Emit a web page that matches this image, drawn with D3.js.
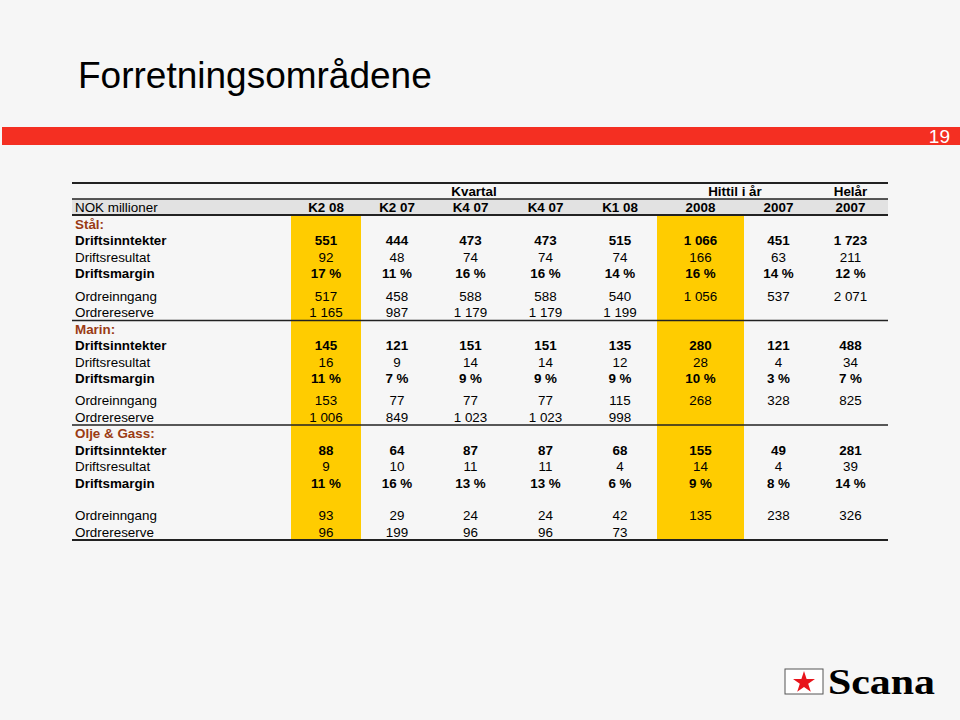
<!DOCTYPE html>
<html lang="no">
<head>
<meta charset="utf-8">
<title>Forretningsområdene</title>
<style>
  body { margin: 0; background: #f6f6f6; }
  svg { display: block; font-family: "Liberation Sans", Arial, sans-serif; }
</style>
</head>
<body>
<script src="https://cdn.jsdelivr.net/npm/d3@7"></script>
<script>
// kolonner
var columns = ["K2 08", "K2 07", "K4 07", "K4 07", "K1 08", "2008", "2007", "2007"];
var groupLabels = ["Kvartal", "Hittil i år", "Helår"];
var groupSpans = [[0, 4], [5, 6], [7, 7]];
var highlightCols = [0, 5];

// Stål
var stalInntekter = [551, 444, 473, 473, 515, 1066, 451, 1723];
var stalResultat = [92, 48, 74, 74, 74, 166, 63, 211];
var stalMargin = [17, 11, 16, 16, 14, 16, 14, 12];
var stalOrdreinngang = [517, 458, 588, 588, 540, 1056, 537, 2071];
var stalOrdrereserve = [1165, 987, 1179, 1179, 1199, null, null, null];

// Marin
var marinInntekter = [145, 121, 151, 151, 135, 280, 121, 488];
var marinResultat = [16, 9, 14, 14, 12, 28, 4, 34];
var marinMargin = [11, 7, 9, 9, 9, 10, 3, 7];
var marinOrdreinngang = [153, 77, 77, 77, 115, 268, 328, 825];
var marinOrdrereserve = [1006, 849, 1023, 1023, 998, null, null, null];

// Olje & Gass
var oljeInntekter = [88, 64, 87, 87, 68, 155, 49, 281];
var oljeResultat = [9, 10, 11, 11, 4, 14, 4, 39];
var oljeMargin = [11, 16, 13, 13, 6, 9, 8, 14];
var oljeOrdreinngang = [93, 29, 24, 24, 42, 135, 238, 326];
var oljeOrdrereserve = [96, 199, 96, 96, 73, null, null, null];

var sections = [
  {name: "Stål:", gap: 6.5, rows: [stalInntekter, stalResultat, stalMargin, stalOrdreinngang, stalOrdrereserve]},
  {name: "Marin:", gap: 6, rows: [marinInntekter, marinResultat, marinMargin, marinOrdreinngang, marinOrdrereserve]},
  {name: "Olje & Gass:", gap: 16.5, rows: [oljeInntekter, oljeResultat, oljeMargin, oljeOrdreinngang, oljeOrdrereserve]}
];
var rowLabels = ["Driftsinntekter", "Driftsresultat", "Driftsmargin", "Ordreinngang", "Ordrereserve"];
var boldRows = [0, 2];
var pctRows = [2];

var width = 960, height = 720;
var fs = 13.4;
var svg = d3.select("body").append("svg")
    .attr("width", width)
    .attr("height", height);

svg.append("rect").attr("width", width).attr("height", height).attr("fill", "#f6f6f6");

// tittel
svg.append("text")
    .attr("x", 78).attr("y", 88)
    .attr("font-size", 37)
    .attr("fill", "#000")
    .text("Forretningsområdene");

// rød stripe
svg.append("rect")
    .attr("x", 2).attr("y", 127)
    .attr("width", 958).attr("height", 18)
    .attr("fill", "#f42f22");
svg.append("text")
    .attr("x", 950).attr("y", 143)
    .attr("text-anchor", "end")
    .attr("font-size", 19)
    .attr("fill", "#fff")
    .text("19");

// tabell-oppsett
var left = 72, right = 888;
var colEdges = [291, 361, 433, 508, 583, 657, 744, 813, 888];
var x = d3.scaleOrdinal()
    .domain(d3.range(columns.length))
    .range(d3.range(columns.length).map(function(i){ return (colEdges[i] + colEdges[i + 1]) / 2; }));

var yTop = 183, yHead1 = 199, yHead2 = 215;
var step = 16.4;

var fmtNum = function(v){ return d3.format(",")(v).replace(/,/g, " "); };

// beregn rad-posisjoner
var rowsOut = [], sepLines = [];
var y = yHead2 + 9;
sections.forEach(function(s, si){
    rowsOut.push({type: "section", label: s.name, y: y});
    s.rows.forEach(function(vals, ri){
        y += step;
        if (ri === 3) y += s.gap;
        rowsOut.push({type: "data", label: rowLabels[ri], vals: vals, ri: ri, y: y});
    });
    sepLines.push(y + 8);
    y += 16.5;
});
var yBottom = sepLines[sepLines.length - 1];

// header-bakgrunn
svg.append("rect")
    .attr("x", left).attr("y", yHead1)
    .attr("width", right - left).attr("height", yHead2 - yHead1)
    .attr("fill", "#e2e2e2");

// gule kolonner
svg.selectAll("rect.hl")
    .data(highlightCols)
    .enter().append("rect")
    .attr("class", "hl")
    .attr("x", function(d){ return colEdges[d]; })
    .attr("y", yHead2)
    .attr("width", function(d){ return colEdges[d + 1] - colEdges[d]; })
    .attr("height", yBottom - yHead2)
    .attr("fill", "#ffcc00");

// linjer
var lines = [{y: yTop, w: 2.2}, {y: yHead1, w: 1.5}, {y: yHead2, w: 2}]
    .concat(sepLines.map(function(v, i){ return {y: v, w: i === sepLines.length - 1 ? 2 : 1.5}; }));
svg.selectAll("line.rule")
    .data(lines)
    .enter().append("line")
    .attr("class", "rule")
    .attr("x1", left).attr("x2", right)
    .attr("y1", function(d){ return d.y; })
    .attr("y2", function(d){ return d.y; })
    .attr("stroke", "#222")
    .attr("stroke-width", function(d){ return d.w; });

// gruppe-overskrifter
svg.selectAll("text.group")
    .data(groupLabels)
    .enter().append("text")
    .attr("class", "group")
    .attr("x", function(d, i){ return (colEdges[groupSpans[i][0]] + colEdges[groupSpans[i][1] + 1]) / 2; })
    .attr("y", (yTop + yHead1) / 2)
    .attr("dy", "0.36em")
    .attr("text-anchor", "middle")
    .attr("font-size", fs)
    .attr("font-weight", "bold")
    .text(function(d){ return d; });

// kolonne-overskrifter
var headY = (yHead1 + yHead2) / 2;
svg.append("text")
    .attr("x", 75).attr("y", headY).attr("dy", "0.36em")
    .attr("font-size", fs)
    .text("NOK millioner");
svg.selectAll("text.colhead")
    .data(columns)
    .enter().append("text")
    .attr("class", "colhead")
    .attr("x", function(d, i){ return x(i); })
    .attr("y", headY).attr("dy", "0.36em")
    .attr("text-anchor", "middle")
    .attr("font-size", fs)
    .attr("font-weight", "bold")
    .text(function(d){ return d; });

// rader
var rowG = svg.selectAll("g.row")
    .data(rowsOut)
    .enter().append("g")
    .attr("class", "row")
    .attr("transform", function(d){ return "translate(0," + d.y + ")"; });

rowG.append("text")
    .attr("x", 75).attr("dy", "0.36em")
    .attr("font-size", fs)
    .attr("font-weight", function(d){ return d.type === "section" || boldRows.indexOf(d.ri) >= 0 ? "bold" : "normal"; })
    .attr("fill", function(d){ return d.type === "section" ? "#9a3b14" : "#000"; })
    .text(function(d){ return d.label; });

rowG.filter(function(d){ return d.type === "data"; })
    .selectAll("text.val")
    .data(function(d){ return d.vals.map(function(v, i){ return {v: v, i: i, ri: d.ri}; }).filter(function(c){ return c.v !== null; }); })
    .enter().append("text")
    .attr("class", "val")
    .attr("x", function(c){ return x(c.i); })
    .attr("dy", "0.36em")
    .attr("text-anchor", "middle")
    .attr("font-size", fs)
    .attr("font-weight", function(c){ return boldRows.indexOf(c.ri) >= 0 ? "bold" : "normal"; })
    .text(function(c){ return pctRows.indexOf(c.ri) >= 0 ? c.v + " %" : fmtNum(c.v); });

// logo
var logo = svg.append("g").attr("transform", "translate(785,669)");
logo.append("rect")
    .attr("width", 38).attr("height", 25)
    .attr("fill", "#fff")
    .attr("stroke", "#555").attr("stroke-width", 1);
logo.append("path")
    .attr("d", d3.symbol().type(d3.symbolStar).size(150))
    .attr("transform", "translate(19,13.5)")
    .attr("fill", "#e8141b");
logo.append("text")
    .attr("x", 43).attr("y", 25)
    .attr("font-family", "'Liberation Serif', 'Times New Roman', serif")
    .attr("font-weight", "bold")
    .attr("font-size", 36)
    .attr("textLength", 107)
    .attr("lengthAdjust", "spacingAndGlyphs")
    .text("Scana");
</script>
</body>
</html>
